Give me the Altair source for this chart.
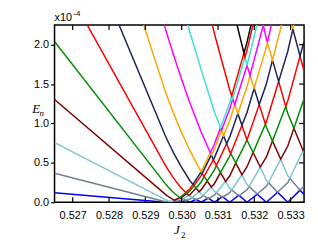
import altair as alt
import pandas as pd

# ---- axis ticks -------------------------------------------------------
X_TICKS = [0.527, 0.528, 0.529, 0.530, 0.531, 0.532, 0.533]
Y_TICKS = [0.0, 0.5, 1.0, 1.5, 2.0]
X_DOMAIN = [0.5265, 0.53337]
Y_DOMAIN = [0.0, 2.25]

# ---- levels (E_n in units of 1e-4), vertices ----------------------------
LEVEL_NAMES = ["1", "2", "3", "4", "5", "6", "7", "8", "9", "10", "11", "12"]
LEVEL_COLORS = ["#0000ff", "#708090", "#80c4ce", "#800000", "#008c00", "#ff0000",
                "#1c2458", "#ffa500", "#ff00ff", "#40e0d0", "#ff0000", "#000000"]

J1 = [0.5265, 0.529553, 0.529609, 0.529637, 0.529722, 0.529778, 0.529890, 0.529974, 0.530115, 0.530227,
      0.530395, 0.530536, 0.530732, 0.530901, 0.531125, 0.531322, 0.531575, 0.531799, 0.532080, 0.532333,
      0.532641, 0.532922, 0.533259, 0.533367]
E1 = [0.1205, 0, 0.0022, 0, 0.0067, 0, 0.0133, 0, 0.0237, 0, 0.0367, 0, 0.0527, 0, 0.0702, 0, 0.0902, 0,
      0.1030, 0, 0.1267, 0, 0.1533, 0.0979]

J2 = [0.5265, 0.529553, 0.529609, 0.529637, 0.529693, 0.529722, 0.529778, 0.529834, 0.529890, 0.529974,
      0.530030, 0.530115, 0.530227, 0.530283, 0.530395, 0.530536, 0.530592, 0.530732, 0.530901, 0.530957,
      0.531125, 0.531322, 0.531378, 0.531575, 0.531799, 0.531855, 0.532080, 0.532333, 0.532389, 0.532641,
      0.532922, 0.532978, 0.533259, 0.533367]
E2 = [0.3680, 0.0067, 0.0022, 0.0033, 0.0100, 0.0067, 0.0111, 0.0222, 0.0133, 0.0233, 0.0388, 0.0222,
      0.0399, 0.0599, 0.0333, 0.0610, 0.0875, 0.0466, 0.0889, 0.1196, 0.0634, 0.1208, 0.1569, 0.0819,
      0.1581, 0.1999, 0.1030, 0.2012, 0.2491, 0.1267, 0.2504, 0.3046, 0.1533, 0.2052]

J3 = [0.5265, 0.529553, 0.529637, 0.529693, 0.529778, 0.529806, 0.529834, 0.529974, 0.530030, 0.530199,
      0.530227, 0.530283, 0.530480, 0.530536, 0.530592, 0.530816, 0.530901, 0.530957, 0.531210, 0.531322,
      0.531378, 0.531659, 0.531799, 0.531855, 0.532164, 0.532333, 0.532389, 0.532726, 0.532922, 0.532978,
      0.533343, 0.533367]
E3 = [0.7562, 0.0333, 0.0166, 0.0100, 0.0200, 0.0266, 0.0222, 0.0499, 0.0388, 0.0867, 0.0743, 0.0599,
      0.1343, 0.1039, 0.0875, 0.1938, 0.1387, 0.1196, 0.2645, 0.1789, 0.1569, 0.3483, 0.2250, 0.1999,
      0.4466, 0.2773, 0.2491, 0.5474, 0.3363, 0.3046, 0.6575, 0.6310]

J4 = [0.5265, 0.529553, 0.529637, 0.529778, 0.529806, 0.529946, 0.529974, 0.530143, 0.530199, 0.530227,
      0.530395, 0.530480, 0.530536, 0.530704, 0.530816, 0.530901, 0.531069, 0.531210, 0.531322, 0.531490,
      0.531659, 0.531799, 0.531968, 0.532164, 0.532333, 0.532501, 0.532726, 0.532922, 0.533091, 0.533343,
      0.533367]
E4 = [1.3046, 0.0999, 0.0700, 0.0310, 0.0266, 0.0599, 0.0499, 0.1118, 0.0867, 0.0949, 0.1804, 0.1343,
      0.1561, 0.2696, 0.1938, 0.2352, 0.3766, 0.2645, 0.3324, 0.4998, 0.3483, 0.4507, 0.6312, 0.4466,
      0.5749, 0.7778, 0.5474, 0.7139, 0.9394, 0.6575, 0.6798]

J5 = [0.5265, 0.529553, 0.529637, 0.529778, 0.529946, 0.529974, 0.530115, 0.530143, 0.530227, 0.530339,
      0.530395, 0.530536, 0.530620, 0.530704, 0.530901, 0.530957, 0.531069, 0.531322, 0.531350, 0.531490,
      0.531799, 0.531968, 0.532305, 0.532333, 0.532501, 0.532866, 0.532922, 0.533091, 0.533367]
E5 = [2.0400, 0.2332, 0.1873, 0.1207, 0.0603, 0.0671, 0.1244, 0.1118, 0.1437, 0.2113, 0.1804, 0.2562,
      0.3277, 0.2696, 0.4093, 0.4684, 0.3766, 0.5861, 0.6187, 0.4998, 0.7891, 0.6312, 0.9920, 0.9507,
      0.7778, 1.2175, 1.1273, 0.9394, 1.3094]

J6 = [0.5265, 0.529553, 0.529637, 0.529778, 0.529974, 0.530115, 0.530227, 0.530311, 0.530339, 0.530536,
      0.530564, 0.530620, 0.530873, 0.530901, 0.530957, 0.531238, 0.531322, 0.531350, 0.531659, 0.531799,
      0.532136, 0.532305, 0.532333, 0.532670, 0.532866, 0.532922, 0.533259, 0.533367]
E6 = [2.9957, 0.4670, 0.4042, 0.3058, 0.1872, 0.1244, 0.1719, 0.2267, 0.2113, 0.3386, 0.3657, 0.3277,
      0.5410, 0.5110, 0.4684, 0.7440, 0.6425, 0.6187, 0.9770, 0.7891, 1.2399, 0.9920, 1.0221, 1.5331,
      1.2175, 1.2850, 1.8561, 1.6680]

J7 = [0.5265, 0.529553, 0.529637, 0.529778, 0.529974, 0.530227, 0.530311, 0.530536, 0.530564, 0.530816,
      0.530873, 0.530901, 0.531153, 0.531238, 0.531322, 0.531547, 0.531659, 0.531799, 0.531996, 0.532136,
      0.532333, 0.532501, 0.532670, 0.532922, 0.533062, 0.533259, 0.533367]
E7 = [4.2114, 0.8407, 0.7579, 0.6274, 0.4617, 0.2731, 0.2267, 0.3848, 0.3657, 0.6012, 0.5410, 0.5636,
      0.8455, 0.7440, 0.8266, 1.1273, 0.9770, 1.1397, 1.4466, 1.2399, 1.5030, 1.8036, 1.5331, 1.9164,
      2.1981, 1.8561, 2.0394]

J8 = [0.5265, 0.529553, 0.529637, 0.529778, 0.529974, 0.530227, 0.530536, 0.530788, 0.530816, 0.530901,
      0.531097, 0.531153, 0.531322, 0.531462, 0.531547, 0.531799, 0.531883, 0.531996, 0.532333, 0.532361,
      0.532501, 0.532894, 0.532922, 0.533062, 0.533367]
E8 = [5.7340, 1.4011, 1.2968, 1.1294, 0.9096, 0.6544, 0.3848, 0.6312, 0.6012, 0.6763, 0.9130, 0.8455,
      1.0333, 1.2399, 1.1273, 1.4654, 1.6119, 1.4466, 1.9726, 2.0290, 1.8036, 2.5050, 2.4424, 2.1981, 2.8096]

J9 = [0.5265, 0.529553, 0.529637, 0.529778, 0.529974, 0.530227, 0.530536, 0.530788, 0.530901, 0.531069,
      0.531097, 0.531322, 0.531406, 0.531462, 0.531799, 0.531883, 0.532248, 0.532333, 0.532361, 0.532754,
      0.532894, 0.532922, 0.533367]
E9 = [7.6164, 2.2017, 2.0749, 1.8687, 1.5917, 1.2584, 0.8914, 0.6312, 0.7364, 0.9469, 0.9130, 1.1836,
      1.3151, 1.2399, 1.7359, 1.6119, 2.2470, 2.0741, 2.0290, 2.8181, 2.5050, 2.5550, 3.3241]

J10 = [0.5265, 0.529553, 0.529637, 0.529778, 0.529974, 0.530227, 0.530536, 0.530901, 0.531069, 0.531322,
       0.531378, 0.531406, 0.531743, 0.531799, 0.532164, 0.532248, 0.532333, 0.532641, 0.532754, 0.532922]
E10 = [9.9185, 3.3026, 3.1529, 2.9068, 2.5711, 2.1572, 1.6838, 1.1498, 0.9469, 1.2625, 1.3527, 1.3151,
       1.8411, 1.7359, 2.4198, 2.2470, 2.3935, 3.0686, 2.8181, 3.1563]

J11 = [0.530536, 0.530901, 0.531322, 0.531378, 0.531715, 0.531743, 0.531799, 0.532108, 0.532164, 0.532333]
E11 = [2.8414, 2.1418, 1.4279, 1.3527, 1.8938, 1.8411, 1.9288, 2.5350, 2.4198, 2.7354]

J12 = [0.530901, 0.531322, 0.531715, 0.531799, 0.532080, 0.532108, 0.532333]
E12 = [3.5697, 2.6302, 1.8938, 2.0290, 2.5927, 2.5350, 2.9760]

LEVEL_J = [J1, J2, J3, J4, J5, J6, J7, J8, J9, J10, J11, J12]
LEVEL_E = [E1, E2, E3, E4, E5, E6, E7, E8, E9, E10, E11, E12]

rows = []
for name, js, es in zip(LEVEL_NAMES, LEVEL_J, LEVEL_E):
    for i, (j, e) in enumerate(zip(js, es)):
        rows.append({"level": name, "J": j, "E": e, "idx": i})
df = pd.DataFrame(rows)

W, H = 252, 179
FONT = "Liberation Sans"

xscale = alt.Scale(domain=X_DOMAIN, nice=False, zero=False)
yscale = alt.Scale(domain=Y_DOMAIN, nice=False, zero=False)
AX_X = alt.Axis(values=X_TICKS, format=".3f", title=None, ticks=False, domain=False,
                grid=False, labelFont=FONT, labelFontSize=11, labelColor="#000",
                labelPadding=7)
AX_Y = alt.Axis(values=Y_TICKS, format=".1f", title=None, tickSize=4, tickColor="#000",
                tickWidth=1.2, domain=False, grid=False, labelFont=FONT, labelFontSize=11,
                labelColor="#000", labelPadding=2)

lines = alt.Chart(df).mark_line(clip=True, strokeWidth=1.5).encode(
    x=alt.X("J:Q", scale=xscale, axis=AX_X),
    y=alt.Y("E:Q", scale=yscale, axis=AX_Y),
    color=alt.Color("level:N", scale=alt.Scale(domain=LEVEL_NAMES, range=LEVEL_COLORS), legend=None),
    order="idx:Q",
)

xt = pd.DataFrame({"J": X_TICKS})
yt = pd.DataFrame({"E": Y_TICKS})

tick_bottom = alt.Chart(xt).mark_rule(color="#000", strokeWidth=1.2).encode(
    x=alt.X("J:Q", scale=xscale, axis=AX_X), y=alt.value(H), y2=alt.value(H - 5))
tick_top = alt.Chart(xt).mark_rule(color="#000", strokeWidth=1.2).encode(
    x=alt.X("J:Q", scale=xscale, axis=AX_X), y=alt.value(0), y2=alt.value(5))
tick_right = alt.Chart(yt).mark_rule(color="#000", strokeWidth=1.2).encode(
    y=alt.Y("E:Q", scale=yscale, axis=AX_Y), x=alt.value(W), x2=alt.value(W - 5))

ann = pd.DataFrame({"t": ["a"]})
def txt(s, x, y, size, font=FONT, style="normal", align="center", baseline="middle"):
    return alt.Chart(ann).mark_text(text=s, fontSize=size, font=font, fontStyle=style,
                                    align=align, baseline=baseline, color="#000").encode(
        x=alt.value(x), y=alt.value(y))

texts = [
    txt("x10", 0, -4, 11, align="left", baseline="alphabetic"),
    txt("-4", 19, -9, 8, align="left", baseline="alphabetic"),
    txt("E", -18.5, 85, 13, font="Liberation Serif", style="italic"),
    txt("n", -13, 89, 9, font="Liberation Serif", style="italic"),
    txt("J", 123.5, 207, 13, font="Liberation Serif", style="italic"),
    txt("2", 130, 212, 9, font="Liberation Serif"),
]

chart = alt.layer(lines, tick_bottom, tick_top, tick_right, *texts).properties(
    width=W, height=H,
    autosize=alt.AutoSizeParams(type="none"),
    padding={"left": 47, "top": 16, "right": 6, "bottom": 40},
).configure_view(stroke="#000", strokeWidth=1.5)

chart.save("out.html", embed_options={"renderer": "svg", "actions": False})
